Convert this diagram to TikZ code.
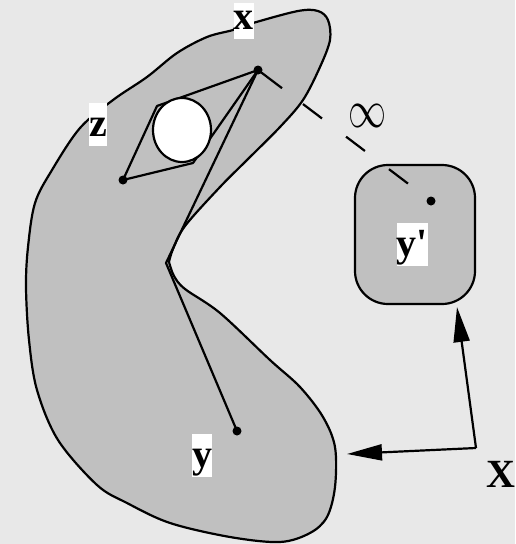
\documentclass[tikz,border=0pt]{standalone}
\usepackage{fontspec}
\newfontfamily\labfont{Liberation Serif}
\usetikzlibrary{arrows.meta,calc}
\definecolor{bgc}{RGB}{232,232,232}
\definecolor{silver}{RGB}{192,192,192}
\tikzset{
  outl/.style={line width=2.2pt, line join=round, line cap=round},
  dotp/.style={fill=black},
  lab/.style={fill=white, inner sep=0pt, text height=33pt, text depth=10pt,
    font=\fontsize{40}{40}\selectfont\labfont\bfseries, anchor=base},
  arr/.style={line width=2.2pt, -{Triangle[length=35pt,width=16pt]}},
}
\begin{document}
\begin{tikzpicture}[x=1pt,y=-1pt]
\useasboundingbox (0,0) rectangle (515,544);
\fill[bgc] (0,0) rectangle (515,544);
% blob
\filldraw[outl, fill=silver] plot[smooth, tension=0.55] coordinates {
 (169,262) (174,276) (185,289) (220,313) (270,360) (300,387) (323,417) (335,447)
 (335,487) (327,517) (310,533) (280,542) (230,537) (170,523) (127,503) (97,485)
 (58,440) (37,390) (29,340) (26,287) (28,247) (35,203) (52,170) (80,128) (113,100)
 (147,77) (177,53) (207,37) (233,30) (253,23) (298,11) (318,11) (328,20) (330,40)
 (320,67) (303,100) (280,127) (247,160) (220,187) (185,226) (173,249) (169,262)} -- cycle;
% points
\coordinate (xp) at (258,70);
\coordinate (zp) at (123,180);
\coordinate (yp) at (237,431);
\coordinate (vp) at (431,201);
\coordinate (nt) at (166,263);
\coordinate (ul) at (157,106);
\coordinate (lr) at (193,163);
\coordinate (Xc) at (476,448);
% polyline x - notch - y
\draw[outl] (xp) -- (nt) -- (yp);
% diamond
\draw[outl] (xp) -- (ul) -- (zp) -- (lr) -- cycle;
% circle
\filldraw[outl, fill=white] (182,130) ellipse (29pt and 32pt);
% dots
\fill[dotp] (xp) circle (4.5pt);
\fill[dotp] (zp) circle (4.5pt);
\fill[dotp] (yp) circle (4.5pt);
% labels
\node[lab, text height=26pt] (lx) at (243.5,29) {x};
\node[lab] (lz) at (98,136) {z};
\node[lab] (ly) at (202,467) {y};
% rounded square
\node[draw, line width=2.2pt, fill=silver, rounded corners=33pt, minimum width=120pt,
  minimum height=139pt, inner sep=0pt] (sq) at (415,234.5) {};
\fill[dotp] (vp) circle (4.5pt);
\node[lab] (lyp) at (412.5,256) {y'};
% dashed "infinity" path
\foreach \a/\b in {0/0.139, 0.26/0.37, 0.509/0.618, 0.757/0.867}{
  \draw[line width=2.2pt] ($(xp)!\a!(vp)$) -- ($(xp)!\b!(vp)$);
}
\node[inner sep=0pt] (inf) at (367,116) {\resizebox{38pt}{23pt}{$\infty$}};
% arrows
\draw[arr] (Xc) -- (457,307);
\draw[arr] (Xc) -- (347,454);
\node[font=\fontsize{40}{40}\selectfont\labfont\bfseries, inner sep=0pt, anchor=base west] (lX) at (486,487) {X};
\end{tikzpicture}
\end{document}
